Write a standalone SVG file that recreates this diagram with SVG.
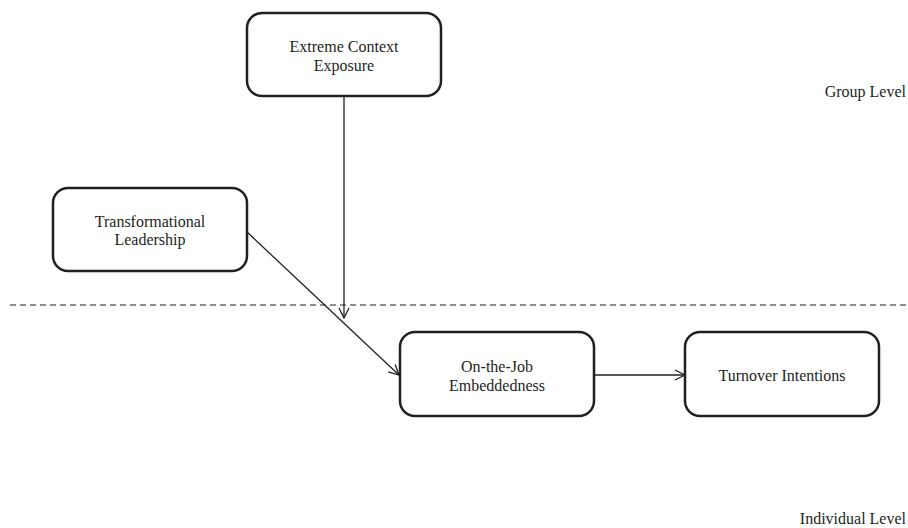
<svg xmlns="http://www.w3.org/2000/svg" width="908" height="528" viewBox="0 0 908 528">
<style>
.box{fill:#fff;stroke:#231f20;stroke-width:2.5}
.t{font-family:"Liberation Serif",serif;font-size:16px;fill:#231f20;text-anchor:middle}
.l{font-family:"Liberation Serif",serif;font-size:16px;fill:#231f20;text-anchor:end}
.c{stroke:#231f20;stroke-width:1.3;fill:none}
</style>
<defs>
<marker id="a" viewBox="0 0 12 12" refX="11" refY="6" markerWidth="12" markerHeight="12" markerUnits="userSpaceOnUse" orient="auto">
<path d="M1,1 L11,6 L1,11" fill="none" stroke="#231f20" stroke-width="1.3"/>
</marker>
</defs>
<line x1="10" y1="305" x2="908" y2="305" stroke="#231f20" stroke-width="1" stroke-dasharray="6,4"/>
<g id="connectors">
<line class="c" x1="344" y1="96" x2="344" y2="318" marker-end="url(#a)"/>
<line class="c" x1="247" y1="232" x2="399" y2="375" marker-end="url(#a)"/>
<line class="c" x1="594" y1="375" x2="685" y2="375" marker-end="url(#a)"/>
</g>
<g id="extreme">
<rect class="box" x="247" y="13" width="194" height="83" rx="15"/>
<text class="t" x="344" y="52">Extreme Context</text>
<text class="t" x="344" y="71">Exposure</text>
</g>
<g id="transformational">
<rect class="box" x="53" y="188" width="194" height="83" rx="15"/>
<text class="t" x="150" y="227">Transformational</text>
<text class="t" x="150" y="245">Leadership</text>
</g>
<g id="embeddedness">
<rect class="box" x="400" y="332" width="194" height="84" rx="15"/>
<text class="t" x="497" y="372">On-the-Job</text>
<text class="t" x="497" y="391">Embeddedness</text>
</g>
<g id="turnover">
<rect class="box" x="685" y="332" width="194" height="84" rx="15"/>
<text class="t" x="782" y="381">Turnover Intentions</text>
</g>
<text class="l" x="906" y="97">Group Level</text>
<text class="l" x="906" y="524">Individual Level</text>
</svg>
